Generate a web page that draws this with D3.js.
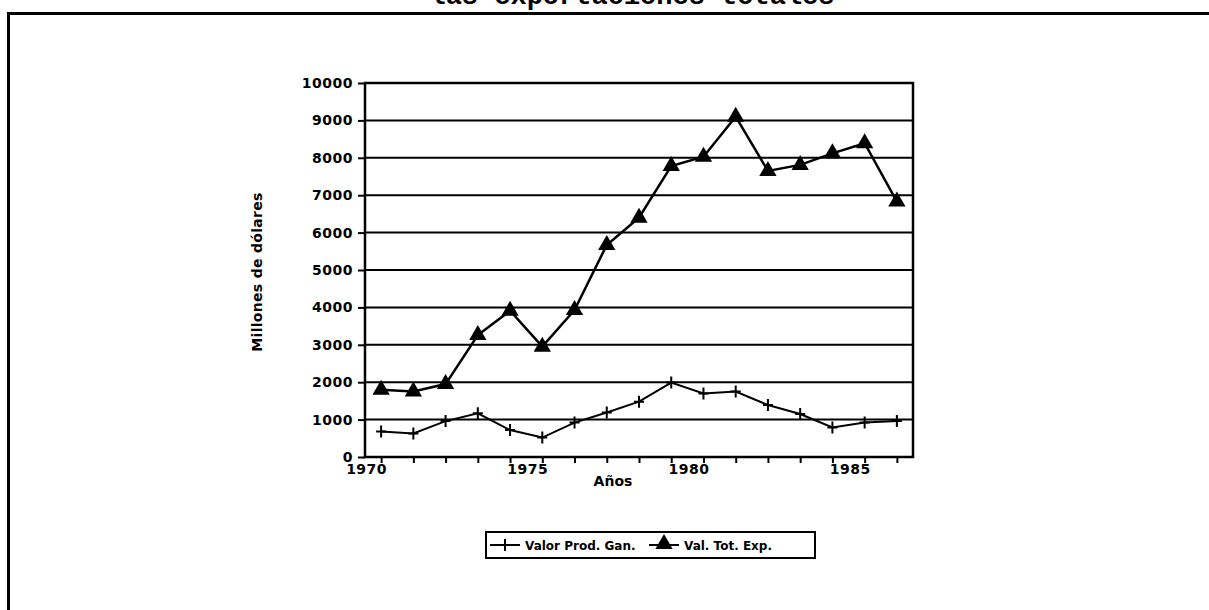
<!DOCTYPE html>
<html>
<head>
<meta charset="utf-8">
<script src="https://cdn.jsdelivr.net/npm/d3@7/dist/d3.min.js"></script>
<style>
        body { margin: 0; background: #fff; }
        svg { display: block; }
        .tk text { font-family: "DejaVu Sans", sans-serif; font-weight: bold; font-size: 14px; fill: #000; }
        .tk line, .tk path { stroke: #000; stroke-width: 2px; }
</style>
</head>
<body>
<svg id="chart" width="1209" height="610"></svg>
<script>
// datos
var years     = [1970,1971,1972,1973,1974,1975,1976,1977,1978,1979,1980,1981,1982,1983,1984,1985,1986];
var prodGan   = [680,630,960,1170,720,520,920,1190,1480,1990,1700,1750,1390,1150,790,920,960];
var totExp    = [1800,1750,1950,3260,3910,2950,3930,5670,6400,7780,8030,9100,7650,7810,8120,8390,6830];
var yTicks    = [0,1000,2000,3000,4000,5000,6000,7000,8000,9000,10000];
var xLabels   = [1970,1975,1980,1985];
var seriesNames = ["Valor Prod. Gan.", "Val. Tot. Exp."];

var svg = d3.select("#chart");

// marco exterior (solo arriba y a la izquierda)
svg.append("path")
        .attr("d", "M8.5,610 L8.5,13.5 L1209,13.5")
        .attr("fill", "none")
        .attr("stroke", "#000")
        .attr("stroke-width", 3);

// titulo cortado arriba
svg.append("text")
        .attr("x", 632)
        .attr("y", 4)
        .attr("text-anchor", "middle")
        .style("font-family", "'Liberation Mono', 'Courier New', monospace")
        .style("font-weight", "bold")
        .style("font-size", "27px")
        .text("las exportaciones totales");

var pLeft = 365, pRight = 913, pTop = 83, pBottom = 457;

var x = d3.scaleLinear().domain([1969.5, 1986.5]).range([pLeft, pRight]);
var y = d3.scaleLinear().domain([0, 10000]).range([pBottom, pTop]);

// lineas de grilla
svg.append("g")
        .selectAll("line")
        .data(yTicks)
        .enter().append("line")
        .attr("x1", pLeft).attr("x2", pRight)
        .attr("y1", function(d) { return y(d); })
        .attr("y2", function(d) { return y(d); })
        .attr("stroke", "#000")
        .attr("stroke-width", 2);

// eje y
var gy = svg.append("g")
        .attr("class", "tk")
        .attr("transform", "translate(" + pLeft + ",0)")
        .call(d3.axisLeft(y).tickValues(yTicks).tickSize(7).tickPadding(5).tickFormat(d3.format("d")));
gy.select(".domain").remove();
gy.selectAll("text").attr("letter-spacing", "0.5px");

// eje x: marcas en cada año
var gx = svg.append("g")
        .attr("class", "tk")
        .attr("transform", "translate(0," + pBottom + ")")
        .call(d3.axisBottom(x).tickValues(years).tickSize(6).tickFormat(""));
gx.select(".domain").remove();

var gxl = svg.append("g")
        .attr("class", "tk")
        .attr("transform", "translate(0," + pBottom + ")")
        .call(d3.axisBottom(x).tickValues(xLabels).tickSize(0).tickPadding(7).tickFormat(d3.format("d")));
gxl.select(".domain").remove();
gxl.selectAll("text").attr("dx", -15).attr("letter-spacing", "0.5px");

// recuadro del area de trazado
svg.append("rect")
        .attr("x", pLeft).attr("y", pTop)
        .attr("width", pRight - pLeft).attr("height", pBottom - pTop)
        .attr("fill", "none")
        .attr("stroke", "#000")
        .attr("stroke-width", 2.5);

// titulos de ejes
svg.append("text")
        .attr("x", 613).attr("y", 486)
        .attr("text-anchor", "middle")
        .style("font-family", "'DejaVu Sans', sans-serif")
        .style("font-weight", "bold")
        .style("font-size", "14px")
        .text("Años");

svg.append("text")
        .attr("transform", "translate(262,272) rotate(-90)")
        .attr("text-anchor", "middle")
        .style("font-family", "'DejaVu Sans', sans-serif")
        .style("font-weight", "bold")
        .style("font-size", "14px")
        .attr("letter-spacing", "0.3px")
        .text("Millones de dólares");

var line = d3.line()
        .x(function(d) { return x(d[0]); })
        .y(function(d) { return y(d[1]); });

var prodPts = years.map(function(yr, i) { return [yr, prodGan[i]]; });
var totPts  = years.map(function(yr, i) { return [yr, totExp[i]]; });

svg.append("path")
        .datum(prodPts)
        .attr("d", line)
        .attr("fill", "none")
        .attr("stroke", "#000")
        .attr("stroke-width", 2);

svg.append("path")
        .datum(totPts)
        .attr("d", line)
        .attr("fill", "none")
        .attr("stroke", "#000")
        .attr("stroke-width", 2.5);

var tri = d3.symbol().type(d3.symbolTriangle).size(130);

// marcadores "+"
svg.append("g")
        .selectAll("path")
        .data(prodPts)
        .enter().append("path")
        .attr("d", function(d) {
                var cx = x(d[0]), cy = y(d[1]);
                return "M" + (cx - 5) + "," + cy + "L" + (cx + 5) + "," + cy +
                       "M" + cx + "," + (cy - 6) + "L" + cx + "," + (cy + 6);
        })
        .attr("stroke", "#000")
        .attr("stroke-width", 2);

// marcadores triangulo
svg.append("g")
        .selectAll("path")
        .data(totPts)
        .enter().append("path")
        .attr("d", tri)
        .attr("transform", function(d) { return "translate(" + x(d[0]) + "," + y(d[1]) + ")"; })
        .attr("fill", "#000");

// leyenda
var leg = svg.append("g");
leg.append("rect")
        .attr("x", 486).attr("y", 532)
        .attr("width", 329).attr("height", 26)
        .attr("fill", "#fff")
        .attr("stroke", "#000")
        .attr("stroke-width", 2);

var legX = [490, 649];
leg.selectAll("line")
        .data(legX)
        .enter().append("line")
        .attr("x1", function(d) { return d; })
        .attr("x2", function(d) { return d + 30; })
        .attr("y1", 545).attr("y2", 545)
        .attr("stroke", "#000")
        .attr("stroke-width", 2);

leg.append("line")
        .attr("x1", 505).attr("x2", 505)
        .attr("y1", 539).attr("y2", 551)
        .attr("stroke", "#000")
        .attr("stroke-width", 2);

leg.append("path")
        .attr("d", tri)
        .attr("transform", "translate(664,544)")
        .attr("fill", "#000");

leg.selectAll("text")
        .data(seriesNames)
        .enter().append("text")
        .attr("x", function(d, i) { return legX[i] + 35; })
        .attr("y", 550)
        .style("font-family", "'DejaVu Sans', sans-serif")
        .style("font-weight", "bold")
        .style("font-size", "12px")
        .text(function(d) { return d; });
</script>
</body>
</html>
